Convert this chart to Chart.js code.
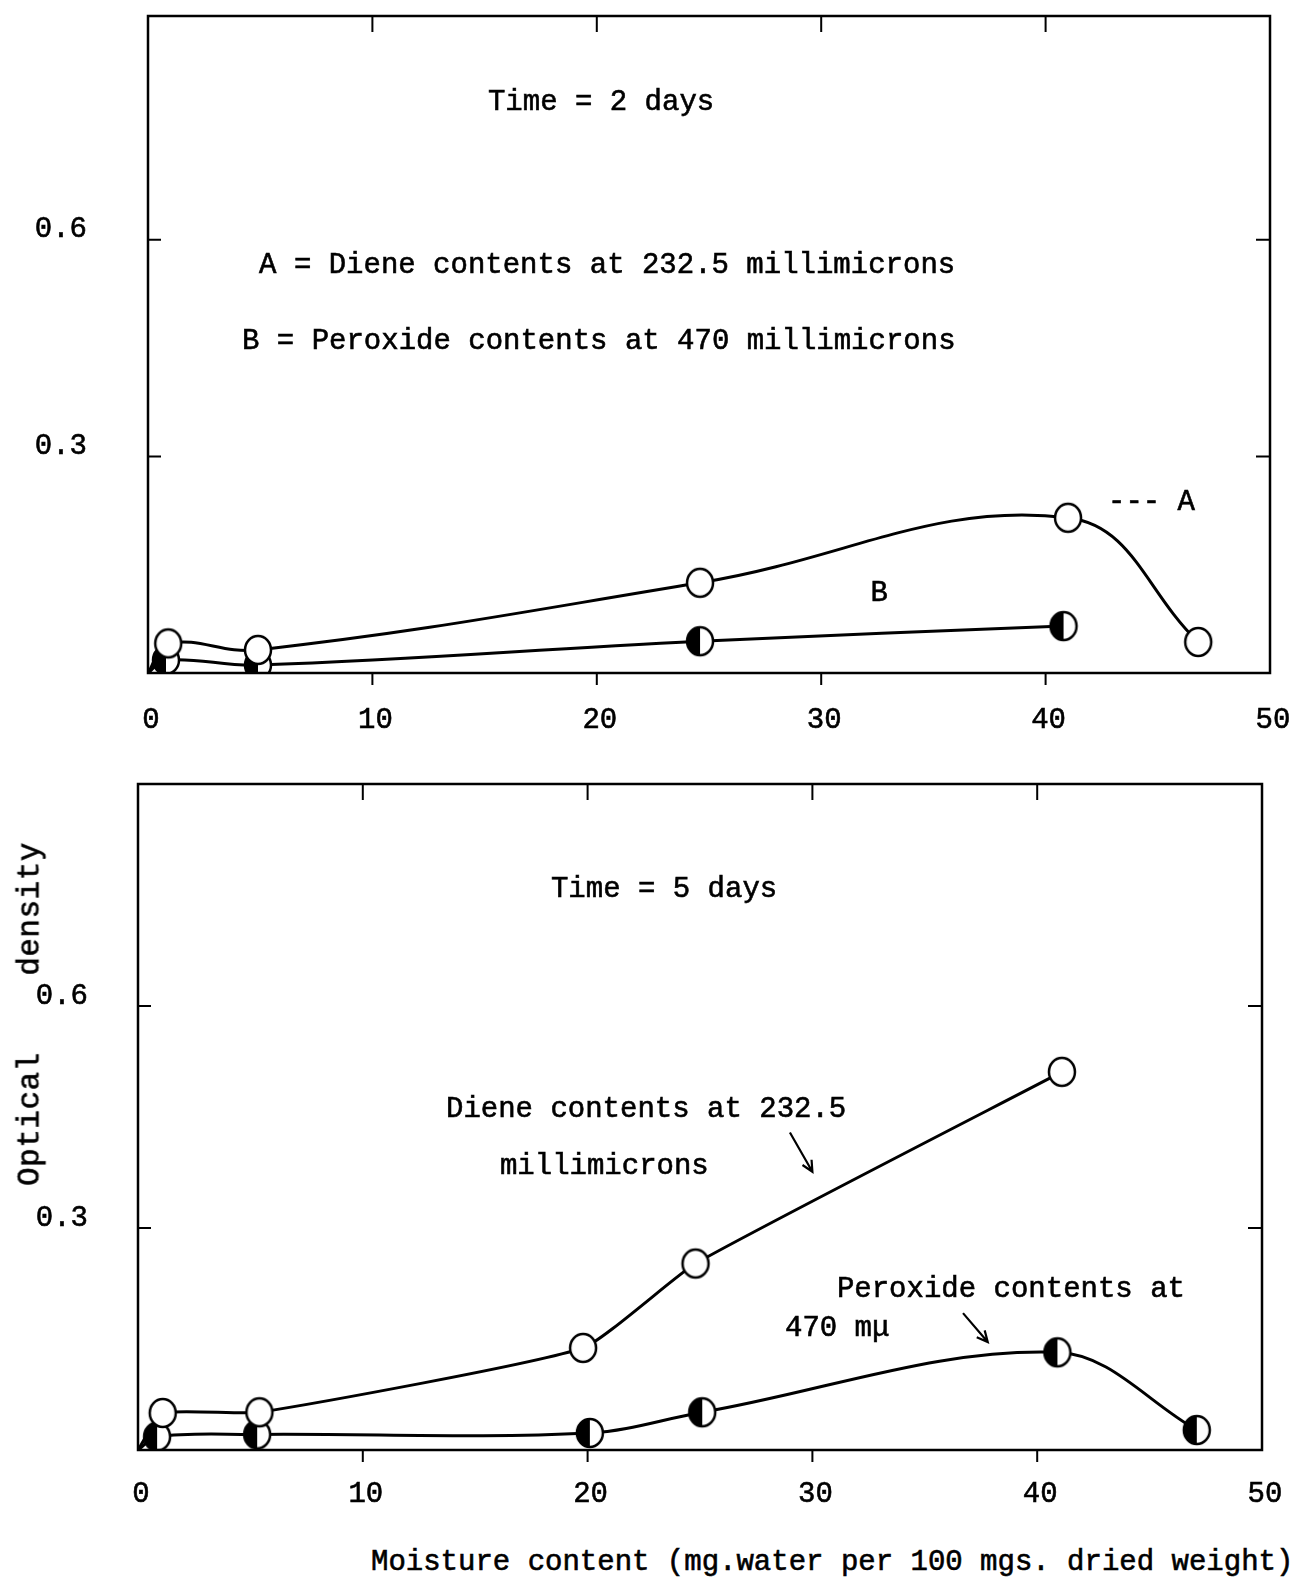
<!DOCTYPE html>
<html lang="en">
<head>
  <meta charset="UTF-8">
  <title>Optical density vs moisture content</title>
  <script src="https://cdn.jsdelivr.net/npm/chart.js"></script>
  <style>
    body { margin: 0; background: #fff; }
    #page { position: relative; width: 1307px; height: 1582px; overflow: hidden; }
    canvas { position: absolute; left: 0; }
    .lbl { position: absolute; font-family: "Courier New", "Nimbus Mono PS", "Liberation Mono", monospace; color: #000; white-space: pre; -webkit-text-stroke: 0.6px #000; }
  </style>
</head>
<body>
  <div id="page">
    <canvas id="top" width="1307" height="760" style="top:0"></canvas>
    <canvas id="bottom" width="1307" height="760" style="top:760px"></canvas>
    <div class="lbl" id="ytitle" style="font-size:31px;letter-spacing:0.5px;left:30px;top:1014px;transform:translate(-50%,-50%) rotate(-90deg);">Optical    density</div>
    <div class="lbl" style="font-size:29px;left:371px;top:1546px;">Moisture content (mg.water per 100 mgs. dried weight)</div>
  </div>
  <script>
    // axis ticks
    const xTicks = [0, 10, 20, 30, 40, 50];
    const yTicks = [0.3, 0.6];

    // Time = 2 days
    const topDieneX = [0, 0.9, 4.9, 24.6, 41.0, 46.8];
    const topDieneY = [0, 0.041, 0.032, 0.125, 0.215, 0.043];
    const topPeroxX = [0, 0.8, 4.9, 24.6, 40.8];
    const topPeroxY = [0, 0.018, 0.011, 0.044, 0.065];

    // Time = 5 days
    const botDieneX = [0, 1.1, 5.4, 19.8, 24.8, 41.1];
    const botDieneY = [0, 0.050, 0.051, 0.138, 0.252, 0.511];
    const botPeroxX = [0, 0.85, 5.3, 20.1, 25.1, 40.9, 47.1];
    const botPeroxY = [0, 0.018, 0.021, 0.023, 0.051, 0.132, 0.027];

    const FONT = '"Courier New", "Nimbus Mono PS", "Liberation Mono", monospace';
    const pts = (xs, ys) => xs.map((x, i) => ({ x: x, y: ys[i] }));

    // open circle / left-half filled circle
    function marker(half) {
      const c = document.createElement('canvas');
      c.width = 32; c.height = 34;
      const g = c.getContext('2d');
      g.beginPath(); g.ellipse(16, 17, 13, 14, 0, 0, Math.PI * 2);
      g.fillStyle = '#fff'; g.fill();
      if (half) {
        g.beginPath(); g.ellipse(16, 17, 13, 14, 0, Math.PI / 2, Math.PI * 1.5);
        g.closePath(); g.fillStyle = '#000'; g.fill();
      }
      g.beginPath(); g.ellipse(16, 17, 13, 14, 0, 0, Math.PI * 2);
      g.lineWidth = 2.5; g.strokeStyle = '#000'; g.stroke();
      return c;
    }
    const openMark = marker(false);
    const halfMark = marker(true);

    // border, inward ticks, typed notes and arrows
    const framePlugin = {
      id: 'frame',
      afterDraw(chart, args, opts) {
        const { ctx, chartArea: a } = chart;
        const x = chart.scales.x, y = chart.scales.y;
        ctx.save();
        ctx.strokeStyle = '#000';
        ctx.lineWidth = 2.5;
        ctx.strokeRect(a.left, a.top, a.right - a.left, a.bottom - a.top);
        ctx.lineWidth = 2;
        ctx.beginPath();
        xTicks.slice(1, -1).forEach(v => {
          const px = x.getPixelForValue(v);
          ctx.moveTo(px, a.top); ctx.lineTo(px, a.top + 16);
          ctx.moveTo(px, a.bottom); ctx.lineTo(px, a.bottom + 12);
        });
        yTicks.forEach(v => {
          const py = y.getPixelForValue(v);
          ctx.moveTo(a.left, py); ctx.lineTo(a.left + 13, py);
          ctx.moveTo(a.right, py); ctx.lineTo(a.right - 14, py);
        });
        ctx.stroke();

        ctx.fillStyle = '#000';
        ctx.font = '29px ' + FONT;
        ctx.textBaseline = 'middle';
        ctx.textAlign = 'left';
        ctx.lineWidth = 0.6;
        (opts.notes || []).forEach(n => {
          const px = x.getPixelForValue(n.x), py = y.getPixelForValue(n.y);
          ctx.fillText(n.text, px, py);
          ctx.strokeText(n.text, px, py);
        });

        (opts.arrows || []).forEach(r => {
          const x0 = x.getPixelForValue(r[0]), y0 = y.getPixelForValue(r[1]);
          const x1 = x.getPixelForValue(r[2]), y1 = y.getPixelForValue(r[3]);
          const ang = Math.atan2(y1 - y0, x1 - x0);
          ctx.lineWidth = 2.2;
          ctx.beginPath();
          ctx.moveTo(x0, y0); ctx.lineTo(x1, y1);
          ctx.moveTo(x1 - 12 * Math.cos(ang - 0.45), y1 - 12 * Math.sin(ang - 0.45));
          ctx.lineTo(x1, y1);
          ctx.lineTo(x1 - 12 * Math.cos(ang + 0.45), y1 - 12 * Math.sin(ang + 0.45));
          ctx.stroke();
        });
        ctx.restore();
      }
    };

    function makeChart(id, sets, cfg) {
      const ds = sets.map(s => ({
        data: s.data,
        borderColor: '#000',
        borderWidth: 3,
        tension: s.tension,
        pointStyle: s.mark,
        pointRadius: c => (c.raw && c.raw.x === 0 ? 0 : 13),
        pointHoverRadius: c => (c.raw && c.raw.x === 0 ? 0 : 13),
        fill: false
      }));
      return new Chart(document.getElementById(id), {
        type: 'line',
        data: { datasets: ds },
        options: {
          responsive: false,
          animation: false,
          layout: { padding: { top: cfg.top, right: cfg.right, left: 0, bottom: 0 } },
          plugins: {
            legend: { display: false },
            tooltip: { enabled: false },
            frame: { notes: cfg.notes, arrows: cfg.arrows }
          },
          scales: {
            x: {
              type: 'linear',
              min: 0, max: 50,
              afterBuildTicks: s => { s.ticks = xTicks.map(v => ({ value: v })); },
              afterFit: s => { s.height = cfg.xh; s.paddingLeft = 0; s.paddingRight = 0; },
              grid: { display: false },
              border: { display: false },
              ticks: {
                color: '#000', padding: cfg.xpad, labelOffset: 3,
                textStrokeColor: '#000', textStrokeWidth: 0.6,
                font: { family: FONT, size: 29 }
              }
            },
            y: {
              min: 0, max: cfg.ymax,
              afterBuildTicks: s => { s.ticks = yTicks.map(v => ({ value: v })); },
              afterFit: s => { s.width = cfg.left; s.paddingTop = 0; s.paddingBottom = 0; },
              grid: { display: false },
              border: { display: false },
              ticks: {
                color: '#000', padding: cfg.ypad, labelOffset: -10,
                textStrokeColor: '#000', textStrokeWidth: 0.6,
                font: { family: FONT, size: 29 },
                callback: v => v.toFixed(1)
              }
            }
          }
        },
        plugins: [framePlugin]
      });
    }

    makeChart('top', [
      { data: pts(topDieneX, topDieneY), mark: openMark, tension: 0.4 },
      { data: pts(topPeroxX, topPeroxY), mark: halfMark, tension: 0.4 }
    ], {
      top: 12, right: 37, left: 148, xh: 87, ymax: 0.91, xpad: 22, ypad: 53,
      notes: [
        { text: 'Time = 2 days', x: 15.15, y: 0.79 },
        { text: 'A = Diene contents at 232.5 millimicrons', x: 4.95, y: 0.564 },
        { text: 'B = Peroxide contents at 470 millimicrons', x: 4.19, y: 0.46 },
        { text: '--- A', x: 42.78, y: 0.237 },
        { text: 'B', x: 32.2, y: 0.111 }
      ],
      arrows: []
    });

    makeChart('bottom', [
      { data: pts(botDieneX, botDieneY), mark: openMark, tension: 0.15 },
      { data: pts(botPeroxX, botPeroxY), mark: halfMark, tension: 0.35 }
    ], {
      top: 24, right: 45, left: 138, xh: 70, ymax: 0.9, xpad: 19, ypad: 42,
      notes: [
        { text: 'Time = 5 days', x: 18.37, y: 0.758 },
        { text: 'Diene contents at 232.5', x: 13.7, y: 0.46 },
        { text: 'millimicrons', x: 16.1, y: 0.384 },
        { text: 'Peroxide contents at', x: 31.09, y: 0.217 },
        { text: '470 m\u03bc', x: 28.78, y: 0.164 }
      ],
      arrows: [[29.0, 0.429, 30.0, 0.376], [36.7, 0.185, 37.8, 0.146]]
    });
  </script>
</body>
</html>
